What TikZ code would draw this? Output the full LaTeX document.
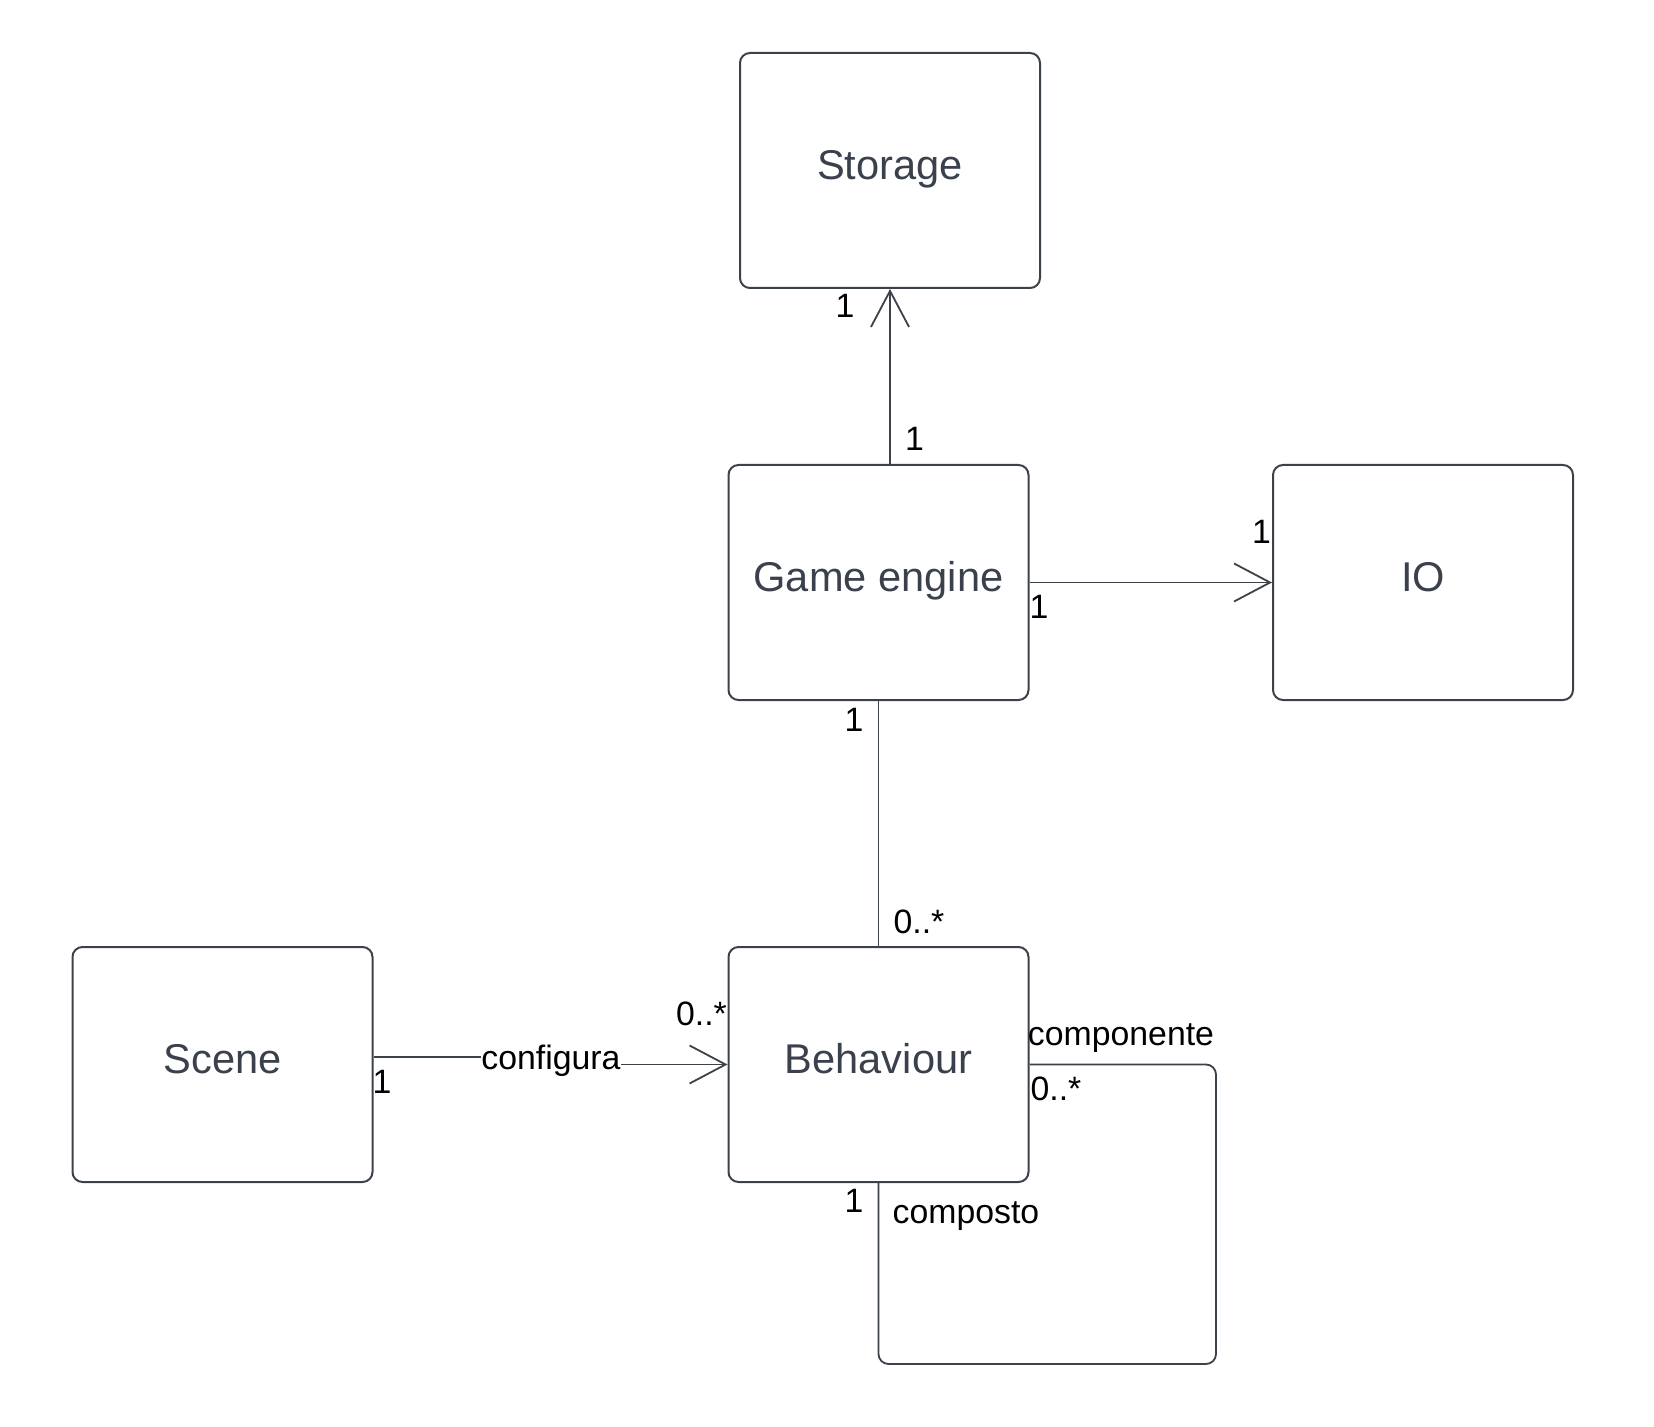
\documentclass[tikz,border=0pt]{standalone}
\usepackage{fontspec}
\setmainfont{Liberation Sans}
\usetikzlibrary{arrows.meta}
\definecolor{ink}{RGB}{58,65,76}
\definecolor{edge}{RGB}{60,66,74}
\begin{document}
\begin{tikzpicture}[x=0.5pt,y=-0.5pt,
 box/.style={draw=edge,line width=1pt,rounded corners=5pt,minimum width=150pt,minimum height=117.5pt,inner sep=0pt,text=ink,font=\fontsize{20.8}{24}\selectfont,text height=14pt,text depth=5pt},
 lbl/.style={inner sep=0pt,text=black,font=\fontsize{16.9}{20}\selectfont,text height=12pt,text depth=0pt},
 assoc/.style={draw=edge,line width=0.9pt},
 nav/.style={assoc,-{Straight Barb[length=18pt,width=19pt]}}
]
\useasboundingbox (0,0) rectangle (1654,1427);
\node[box] (storage) at (890,170.5) {Storage};
\node[box] (engine) at (878.5,582.5) {Game engine};
\node[box] (io) at (1423,582.5) {IO};
\node[box] (scene) at (222.5,1064.5) {Scene};
\node[box] (behaviour) at (878.5,1064.5) {Behaviour};

\draw[nav] ([xshift=5.75pt]engine.north) -- (storage.south);
\draw[nav] (engine.east) -- (io.west);
\draw[assoc] (engine.south) -- (behaviour.north);
\draw[nav] ([yshift=3.75pt]scene.east) -- (551,1057) node[lbl,fill=white] (cfg) {configura} -- (551,1064.5) -- (behaviour.west);
\draw[assoc,rounded corners=5pt] (behaviour.east) -- (1216,1064.5) -- (1216,1364) -- (878.5,1364) -- (behaviour.south);

\node[lbl] (m1) at (845,306) {1};
\node[lbl] (m2) at (914.5,439) {1};
\node[lbl] (m3) at (1039,606.5) {1};
\node[lbl] (m4) at (1261.5,531.6) {1};
\node[lbl] (m5) at (854,719) {1};
\node[lbl] (m6) at (919,921) {0..*};
\node[lbl] (m7) at (701.5,1013.6) {0..*};
\node[lbl] (m8) at (382,1081) {1};
\node[lbl] (r1) at (1121,1033) {componente};
\node[lbl] (m9) at (1056,1088.6) {0..*};
\node[lbl] (m10) at (854,1200) {1};
\node[lbl] (r2) at (966,1211) {composto};
\end{tikzpicture}
\end{document}
